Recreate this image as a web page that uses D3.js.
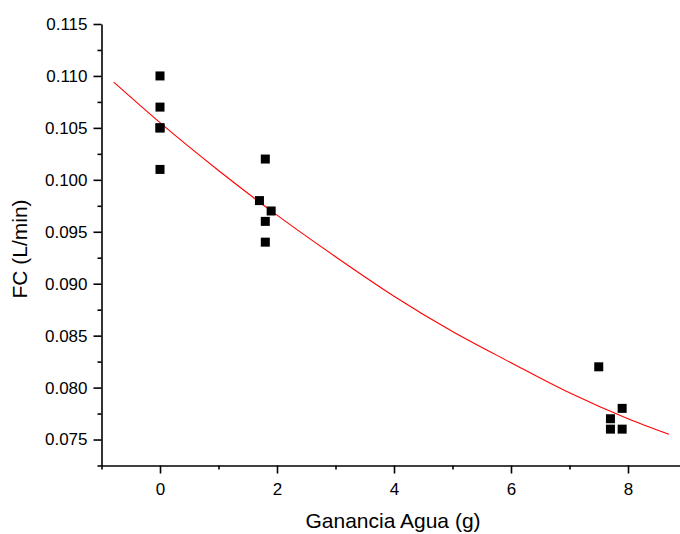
<!DOCTYPE html>
<html>
<head>
<meta charset="utf-8">
<script src="https://cdn.jsdelivr.net/npm/d3@7"></script>
<style>
  html, body { margin: 0; padding: 0; background: #fff; }
  svg { display: block; font-family: "Liberation Sans", Arial, sans-serif; }
</style>
</head>
<body>
<svg id="chart" width="680" height="534"></svg>
<script>
// Data
const pointsX = [0, 0, 0, 0, 0, 1.7, 1.8, 1.8, 1.9, 1.8, 7.5, 7.9, 7.7, 7.7, 7.9];
const pointsY = [0.110, 0.107, 0.105, 0.105, 0.101, 0.098, 0.102, 0.096, 0.097, 0.094, 0.082, 0.078, 0.077, 0.076, 0.076];
const fitX = [-0.79, 0, 1, 2, 3, 4, 5, 6, 7, 8, 8.7];
const fitY = [0.1094, 0.1055, 0.1009, 0.0966, 0.0926, 0.0888, 0.0854, 0.0824, 0.0795, 0.0770, 0.0755];
const xMajorTicks = [0, 2, 4, 6, 8];
const xMinorTicks = [-1, 1, 3, 5, 7, 9];
const yMajorTicks = [0.075, 0.080, 0.085, 0.090, 0.095, 0.100, 0.105, 0.110, 0.115];
const yMinorTicks = [0.0725, 0.0775, 0.0825, 0.0875, 0.0925, 0.0975, 0.1025, 0.1075, 0.1125];
const xTitle = "Ganancia Agua (g)";
const yTitle = "FC (L/min)";

const svg = d3.select("#chart");
const x = d3.scaleLinear().domain([-1, 9]).range([101.5, 686.5]);
const y = d3.scaleLinear().domain([0.0725, 0.115]).range([465.5, 24]);

const axisStroke = 1.6;

// Y axis
const gy = svg.append("g").attr("transform", `translate(${x(-1)},0)`);
gy.call(d3.axisLeft(y).tickValues(yMajorTicks).tickSize(8).tickSizeOuter(0).tickPadding(6)
  .tickFormat(d3.format(".3f")));
const gyMinor = svg.append("g").attr("transform", `translate(${x(-1)},0)`);
gyMinor.call(d3.axisLeft(y).tickValues(yMinorTicks).tickSize(4).tickSizeOuter(0).tickFormat(""));
gyMinor.select(".domain").remove();

// X axis
const gx = svg.append("g").attr("transform", `translate(0,${y(0.0725)})`);
gx.call(d3.axisBottom(x).tickValues(xMajorTicks).tickSize(8).tickSizeOuter(0).tickPadding(9)
  .tickFormat(d3.format("d")));
const gxMinor = svg.append("g").attr("transform", `translate(0,${y(0.0725)})`);
gxMinor.call(d3.axisBottom(x).tickValues(xMinorTicks).tickSize(4).tickSizeOuter(0).tickFormat(""));
gxMinor.select(".domain").remove();

svg.selectAll(".domain, .tick line").attr("stroke", "#000").attr("stroke-width", axisStroke);
svg.selectAll(".tick text").attr("fill", "#000").style("font-size", "17px")
  .style("font-family", "'Liberation Sans', Arial, sans-serif");

// Fit line
const line = d3.line().x(d => x(d[0])).y(d => y(d[1])).curve(d3.curveMonotoneX);
svg.append("path")
  .datum(fitX.map((v, i) => [v, fitY[i]]))
  .attr("fill", "none").attr("stroke", "#ff0000").attr("stroke-width", 1.1)
  .attr("d", line);

// Points
const s = 9;
svg.append("g").selectAll("rect")
  .data(pointsX.map((v, i) => [v, pointsY[i]]))
  .join("rect")
  .attr("x", d => x(d[0]) - s / 2)
  .attr("y", d => y(d[1]) - s / 2)
  .attr("width", s).attr("height", s)
  .attr("fill", "#000");

// Titles
svg.append("text")
  .attr("x", 393).attr("y", 528)
  .attr("text-anchor", "middle")
  .style("font-size", "21px").attr("fill", "#000")
  .text(xTitle);

svg.append("text")
  .attr("transform", "translate(27,249) rotate(-90)")
  .attr("text-anchor", "middle")
  .style("font-size", "21px").attr("fill", "#000")
  .text(yTitle);
</script>
</body>
</html>
